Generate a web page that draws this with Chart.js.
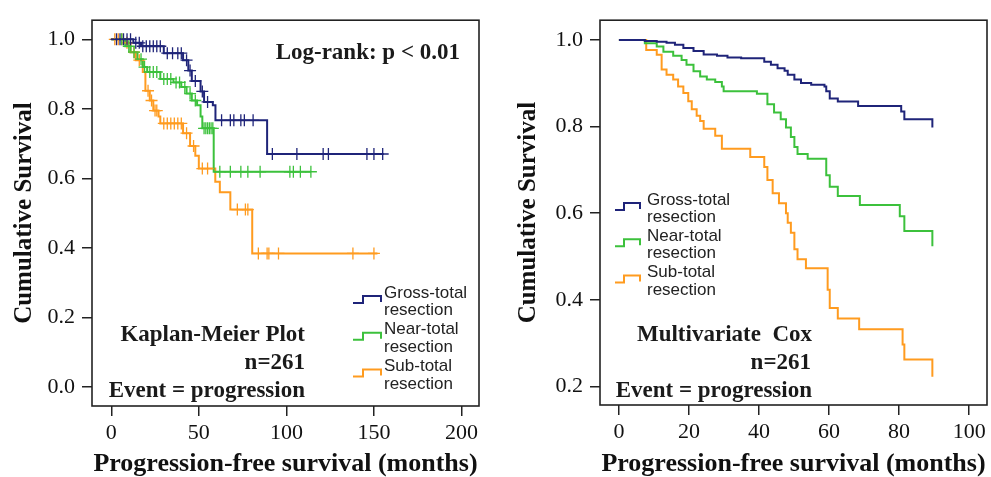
<!DOCTYPE html>
<html>
<head>
<meta charset="utf-8">
<script src="https://cdn.jsdelivr.net/npm/chart.js@4.4.1/dist/chart.umd.min.js"></script>
<style>
body { margin: 0; background: #fff; }
#left { position: absolute; left: 0; top: 0; }
#right { position: absolute; left: 495px; top: 0; }
</style>
</head>
<body>
<canvas id="left" width="495" height="477"></canvas>
<canvas id="right" width="496" height="477"></canvas>
<script>
// groups
const groupLabels = [['Gross-total', 'resection'], ['Near-total', 'resection'], ['Sub-total', 'resection']];
const groupColors = ['#1f2479', '#3cc13c', '#ff9b1f'];

// Kaplan-Meier (left) - step times and survival after each step
const gtKmT = [0, 12.6, 17, 30, 41, 44, 46, 51, 53, 58, 59.5, 89, 155.6];
const gtKmS = [1, 0.99, 0.98, 0.96, 0.94, 0.91, 0.88, 0.85, 0.82, 0.81, 0.767, 0.67, 0.67];
const ntKmT = [0, 8, 11, 15, 18, 20.5, 28, 35.5, 40, 43, 46, 49, 51, 52, 58.5, 114];
const ntKmS = [1, 0.98, 0.963, 0.943, 0.92, 0.906, 0.886, 0.876, 0.863, 0.844, 0.824, 0.81, 0.778, 0.744, 0.619, 0.619];
const stKmT = [0, 8, 11, 14, 18, 19.5, 22, 24, 27, 28, 41, 45, 48, 50, 59.4, 62, 68, 80.5, 152];
const stKmS = [1, 0.99, 0.963, 0.94, 0.906, 0.852, 0.824, 0.795, 0.778, 0.758, 0.73, 0.693, 0.665, 0.628, 0.59, 0.56, 0.51, 0.384, 0.384];

// censored times (+ marks)
const gtCens = [3, 5, 7, 9, 11, 14, 16, 18, 20, 22, 24, 26, 28, 32, 35, 38, 40, 43, 45, 48, 52, 55, 63, 68, 70, 74, 76, 81, 92, 106, 121, 124, 146, 150, 155];
const ntCens = [6, 10, 13, 17, 19, 22, 24, 26, 30, 32, 34, 37, 39, 42, 45, 48, 53, 54, 55, 56, 57, 58, 62, 68, 74, 78, 85, 102, 104, 108, 114];
const stCens = [2, 4, 6, 9, 13, 16, 21, 23, 25, 26, 30, 32, 34, 36, 38, 40, 43, 47, 52, 55, 72, 76.6, 78, 84, 89, 90, 95.5, 138, 150];

// Multivariate Cox (right)
const gtCoxT = [0, 7.4, 10.8, 13.6, 16, 18.4, 21.3, 24.2, 28, 31, 34.9, 41.5, 43.4, 45.3, 47.3, 48.2, 50.1, 52, 54.9, 58.7, 59.2, 60.2, 62.5, 68.3, 80.6, 81.5, 89.5];
const gtCoxS = [1, 0.998, 0.996, 0.994, 0.989, 0.982, 0.975, 0.967, 0.964, 0.96, 0.958, 0.95, 0.943, 0.935, 0.929, 0.92, 0.909, 0.901, 0.897, 0.893, 0.882, 0.865, 0.858, 0.848, 0.835, 0.817, 0.798];
const ntCoxT = [0, 7.4, 10.8, 12.7, 15.5, 17.9, 19.3, 21.3, 23.2, 25.1, 27.5, 29.4, 29.9, 39.4, 42.4, 44.3, 46.2, 47.7, 49.1, 50.1, 51, 53.9, 59.2, 60.2, 62.5, 68.8, 80.2, 81.5, 89.5];
const ntCoxS = [1, 0.993, 0.985, 0.973, 0.964, 0.954, 0.943, 0.928, 0.916, 0.909, 0.903, 0.893, 0.882, 0.876, 0.852, 0.833, 0.817, 0.798, 0.776, 0.753, 0.737, 0.726, 0.688, 0.661, 0.64, 0.619, 0.593, 0.559, 0.524];
const stCoxT = [0, 7.8, 10.8, 12.2, 13.6, 15.5, 16.9, 18.4, 19.8, 20.8, 22.2, 23.2, 24.2, 27.5, 29.4, 37.5, 41.5, 42.4, 43.9, 45.7, 47.7, 48.2, 49.1, 50.1, 51, 53.4, 59.6, 60.2, 62.5, 68.6, 81, 81.5, 89.5];
const stCoxS = [1, 0.977, 0.966, 0.932, 0.92, 0.909, 0.893, 0.878, 0.859, 0.84, 0.825, 0.813, 0.795, 0.779, 0.749, 0.73, 0.707, 0.677, 0.646, 0.623, 0.6, 0.578, 0.555, 0.517, 0.494, 0.473, 0.423, 0.381, 0.357, 0.332, 0.297, 0.262, 0.222];

// tick labels
const kmXTicks = [0, 50, 100, 150, 200];
const kmYTicks = [0.0, 0.2, 0.4, 0.6, 0.8, 1.0];
const coxXTicks = [0, 20, 40, 60, 80, 100];
const coxYTicks = [0.2, 0.4, 0.6, 0.8, 1.0];

const SERIF = '"Liberation Serif", "Times New Roman", serif';
const SANS = '"Liberation Sans", Arial, sans-serif';

function toPts(t, s) {
    return t.map((v, i) => ({x: v, y: s[i]}));
}

// survival value at time t
function survAt(t, s, x) {
    let v = s[0];
    for (let i = 0; i < t.length; i++) {
        if (t[i] <= x) v = s[i];
    }
    return v;
}

function curve(t, s, color) {
    return {
        data: toPts(t, s),
        showLine: true,
        stepped: true,
        borderColor: color,
        borderWidth: 2,
        pointRadius: 0,
        fill: false
    };
}

function censor(cens, t, s, color) {
    return {
        data: cens.map(c => ({x: c, y: survAt(t, s, c)})),
        showLine: false,
        pointStyle: 'cross',
        pointRadius: 6,
        borderColor: color,
        borderWidth: 1.3
    };
}

const framePlugin = {
    id: 'frame',
    afterDraw(chart, args, opts) {
        const {ctx, chartArea: a} = chart;
        ctx.save();
        ctx.strokeStyle = '#222';
        ctx.lineWidth = 1.6;
        ctx.strokeRect(a.left, a.top, a.right - a.left, a.bottom - a.top);

        ctx.fillStyle = '#1a1a1a';
        ctx.textBaseline = 'middle';
        ctx.font = 'bold 23px ' + SERIF;
        opts.notes.forEach(n => {
            ctx.textAlign = n.align;
            ctx.fillText(n.text, n.x, n.y);
        });

        // legend with step icons
        const lg = opts.legend;
        ctx.font = '17px ' + SANS;
        ctx.textAlign = 'left';
        groupLabels.forEach((lab, i) => {
            const cy = lg.y + i * lg.rowGap;
            ctx.strokeStyle = groupColors[i];
            ctx.lineWidth = 2;
            ctx.beginPath();
            ctx.moveTo(lg.x, cy + 10);
            ctx.lineTo(lg.x + lg.step, cy + 10);
            ctx.lineTo(lg.x + lg.step, cy + 3);
            ctx.lineTo(lg.x + lg.w, cy + 3);
            ctx.lineTo(lg.x + lg.w, cy + 9);
            ctx.stroke();
            ctx.fillStyle = '#222';
            ctx.fillText(lab[0], lg.textX, cy);
            ctx.fillText(lab[1], lg.textX, cy + 17.5);
        });
        ctx.restore();
    }
};

function makeChart(id, datasets, xr, yr, xTicks, yTicks, yw, xh, pad, titlePad, notes, legend) {
    const tickFont = {family: SERIF, size: 22};
    new Chart(document.getElementById(id), {
        type: 'scatter',
        data: {datasets: datasets},
        options: {
            responsive: false,
            animation: false,
            layout: {padding: pad},
            plugins: {
                legend: {display: false},
                tooltip: {enabled: false},
                frame: {notes: notes, legend: legend}
            },
            scales: {
                x: {
                    type: 'linear',
                    min: xr[0], max: xr[1],
                    afterBuildTicks: s => { s.ticks = xTicks.map(v => ({value: v})); },
                    afterFit: s => { s.height = xh; },
                    grid: {drawOnChartArea: false, drawTicks: true, tickLength: 10, color: '#222', lineWidth: 1.5},
                    border: {display: false},
                    ticks: {font: tickFont, color: '#111', padding: 4, maxRotation: 0},
                    title: {display: true, text: 'Progression-free survival (months)', color: '#111',
                        font: {family: SERIF, size: 26, weight: 'bold', lineHeight: 1}, padding: 0}
                },
                y: {
                    type: 'linear',
                    min: yr[0], max: yr[1],
                    afterBuildTicks: s => { s.ticks = yTicks.map(v => ({value: v})); },
                    afterFit: s => { s.width = yw; },
                    grid: {drawOnChartArea: false, drawTicks: true, tickLength: 10, color: '#222', lineWidth: 1.5},
                    border: {display: false},
                    ticks: {font: tickFont, color: '#111', padding: 7, callback: v => v.toFixed(1)},
                    title: {display: true, text: 'Cumulative Survival', color: '#111',
                        font: {family: SERIF, size: 25, weight: 'bold', lineHeight: 1}, padding: {top: titlePad, bottom: 0}}
                }
            }
        },
        plugins: [framePlugin]
    });
}

makeChart('left', [
        censor(gtCens, gtKmT, gtKmS, groupColors[0]),
        censor(ntCens, ntKmT, ntKmS, groupColors[1]),
        censor(stCens, stKmT, stKmS, groupColors[2]),
        curve(gtKmT, gtKmS, groupColors[0]),
        curve(ntKmT, ntKmS, groupColors[1]),
        curve(stKmT, stKmS, groupColors[2])
    ],
    [-11, 210], [-0.055, 1.055], kmXTicks, kmYTicks, 92, 71,
    {left: 0, right: 16, top: 15, bottom: 0}, 12,
    [
        {text: 'Log-rank: p < 0.01', x: 460, y: 53, align: 'right'},
        {text: 'Kaplan-Meier Plot', x: 305, y: 335, align: 'right'},
        {text: 'n=261', x: 305, y: 363, align: 'right'},
        {text: 'Event = progression', x: 305, y: 391, align: 'right'}
    ],
    {x: 353, step: 10, w: 28, textX: 384, y: 293, rowGap: 36.7});

makeChart('right', [
        curve(gtCoxT, gtCoxS, groupColors[0]),
        curve(ntCoxT, ntCoxS, groupColors[1]),
        curve(stCoxT, stCoxS, groupColors[2])
    ],
    [-5.4, 105.1], [0.157, 1.046], coxXTicks, coxYTicks, 105, 72,
    {left: 0, right: 4, top: 15, bottom: 0}, 21,
    [
        {text: 'Multivariate  Cox', x: 317, y: 335, align: 'right'},
        {text: 'n=261', x: 316, y: 363, align: 'right'},
        {text: 'Event = progression', x: 317, y: 391, align: 'right'}
    ],
    {x: 120, step: 9, w: 25, textX: 152, y: 200, rowGap: 36.3});
</script>
</body>
</html>
